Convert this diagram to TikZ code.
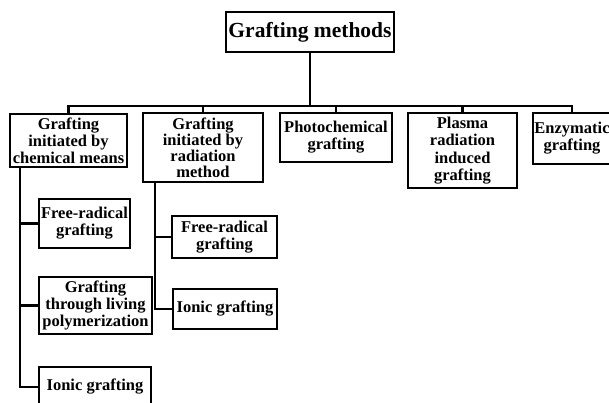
\documentclass[tikz,border=0pt]{standalone}
\usepackage{fontspec}
\setmainfont{Liberation Serif}
\begin{document}
\begin{tikzpicture}[x=1pt,y=-1pt,
  box/.style={draw, line width=2pt, fill=white, align=center, inner sep=0pt,
    font=\fontsize{16.5}{17}\selectfont\bfseries},
  link/.style={line width=2.4pt}]
\useasboundingbox (0,0) rectangle (609,403);

% root
\node[box, minimum width=168, minimum height=40,
  font=\fontsize{21.5}{22}\selectfont\bfseries] (top) at (310,32) {Grafting methods};

% first level
\node[box, minimum width=117, minimum height=53] (chem) at (68.5,140.5)
  {Grafting\\initiated by\\chemical means};
\node[box, minimum width=120, minimum height=69,
  font=\fontsize{16.5}{16}\selectfont\bfseries] (rad) at (203,147.5)
  {Grafting\\initiated by\\radiation\\method};
\node[box, minimum width=112, minimum height=49] (photo) at (336,137.5)
  {Photochemical\\grafting};
\node[box, minimum width=109, minimum height=75,
  font=\fontsize{16.5}{17.5}\selectfont\bfseries] (plasma) at (462.5,150.5)
  {Plasma\\radiation\\induced\\grafting};
\node[box, minimum width=78, minimum height=51] (enzy) at (572,138.5)
  {Enzymatic\\grafting};

% chemical means
\node[box, minimum width=91, minimum height=49] (fr1) at (84.5,223.5)
  {Free-radical\\grafting};
\node[box, minimum width=113, minimum height=57] (living) at (95.5,305.5)
  {Grafting\\through living\\polymerization};
\node[box, minimum width=112, minimum height=40] (ionic1) at (95,387)
  {Ionic grafting};

% radiation method
\node[box, minimum width=105, minimum height=42] (fr2) at (224.5,237)
  {Free-radical\\grafting};
\node[box, minimum width=104, minimum height=40] (ionic2) at (225,309)
  {Ionic grafting};

% connectors
\coordinate (bar) at (0,106);
\draw[link] (top.south) -- (top.south |- bar);
\draw[link] (chem.north) |- (enzy.north |- bar) -- (enzy.north);
\foreach \n in {rad,photo,plasma}
  \draw[link] (\n.north) -- (\n.north |- bar);

\coordinate (ct) at ([xshift=11]chem.south west);
\draw[link] (ct) |- (ionic1.west);
\draw[link] (fr1.west) -- (fr1.west -| ct);
\draw[link] (living.west) -- (living.west -| ct);

\coordinate (rt) at ([xshift=13]rad.south west);
\draw[link] (rt) |- (ionic2.west);
\draw[link] (fr2.west) -- (fr2.west -| rt);
\end{tikzpicture}
\end{document}
